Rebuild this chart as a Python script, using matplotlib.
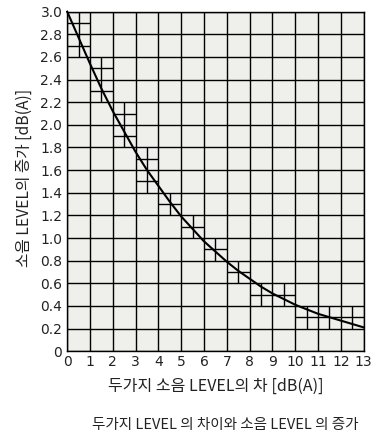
import matplotlib
matplotlib.use("Agg")
import matplotlib.pyplot as plt
import numpy as np

plt.rcParams['font.family'] = ['Noto Sans CJK KR', 'DejaVu Sans']

# Curve values (level difference -> increase)
diff = [0, 0.5, 1, 1.5, 2, 2.5, 3, 3.5, 4, 4.5, 5, 5.5, 6, 6.5, 7, 7.5, 8, 8.5, 9, 9.5,
        10, 10.5, 11, 11.5, 12, 12.5, 13]
increase = [3.0, 2.77, 2.54, 2.32, 2.12, 1.94, 1.76, 1.60, 1.46, 1.32, 1.19, 1.08, 0.97, 0.88,
            0.79, 0.71, 0.64, 0.57, 0.51, 0.46, 0.41, 0.37, 0.33, 0.30, 0.27, 0.24, 0.21]

# Sub-divided grid cells along the curve
cell_x0 = [0, 1, 2, 3, 4, 5, 6, 7, 8, 10]
cell_x1 = [1, 2, 3, 4, 5, 6, 7, 8, 10, 13]
cell_y0 = [2.6, 2.2, 1.8, 1.4, 1.2, 1.0, 0.8, 0.6, 0.4, 0.2]
cell_y1 = [3.0, 2.6, 2.2, 1.8, 1.4, 1.2, 1.0, 0.8, 0.6, 0.4]

xticks = list(range(0, 14))
yticks = [0, 0.2, 0.4, 0.6, 0.8, 1.0, 1.2, 1.4, 1.6, 1.8, 2.0, 2.2, 2.4, 2.6, 2.8, 3.0]
ytick_labels = ['0', '0.2', '0.4', '0.6', '0.8', '1.0', '1.2', '1.4', '1.6', '1.8',
                '2.0', '2.2', '2.4', '2.6', '2.8', '3.0']

xlabel = '두가지 소음 LEVEL의 차 [dB(A)]'
ylabel = '소음 LEVEL의 증가 [dB(A)]'
caption = '두가지 LEVEL 의 차이와 소음 LEVEL 의 증가'

fig = plt.figure(figsize=(3.82, 4.33), dpi=100)
ax = fig.add_axes([0.176, 0.189, 0.776, 0.784])
ax.set_facecolor('#efefeb')

ax.set_xlim(0, 13)
ax.set_ylim(0, 3.0)
ax.set_xticks(xticks)
ax.set_yticks(yticks)
ax.set_yticklabels(ytick_labels)
ax.tick_params(length=0, labelsize=10, colors='#222222')
ax.tick_params(axis='x', pad=3)
ax.tick_params(axis='y', pad=3.5)
for lab in ax.get_xticklabels() + ax.get_yticklabels():
    lab.set_family(['DejaVu Sans'])
ax.grid(True, color='black', linewidth=1.0)
ax.set_axisbelow(True)
for s in ax.spines.values():
    s.set_color('black')
    s.set_linewidth(1.0)

# sub-division lines
for x0, x1, y0, y1 in zip(cell_x0, cell_x1, cell_y0, cell_y1):
    xs = np.arange(x0 + 0.5, x1, 1.0)
    ax.vlines(xs, y0, y1, colors='black', linewidth=1.0, zorder=1.5)
    ys = np.arange(y0 + 0.1, y1 - 0.05, 0.2)
    ax.hlines(ys, x0, x1, colors='black', linewidth=1.0, zorder=1.5)

ax.plot(diff, increase, color='black', linewidth=1.5, zorder=3, clip_on=False)

ax.set_xlabel(xlabel, fontsize=11.5, color='#222222')
ax.xaxis.label.set_va('center')
ax.xaxis.set_label_coords(0.5, -0.103)
ax.set_ylabel(ylabel, fontsize=11.3, color='#222222')
ax.yaxis.label.set_va('center')
ax.yaxis.set_label_coords(-0.146, 0.511)
fig.text(0.5 * (92 + 358) / 382, 1 - 425 / 433, caption, fontsize=10.5,
         color='#222222', ha='center', va='center')

fig.savefig('out.png', dpi=100, facecolor='white')
